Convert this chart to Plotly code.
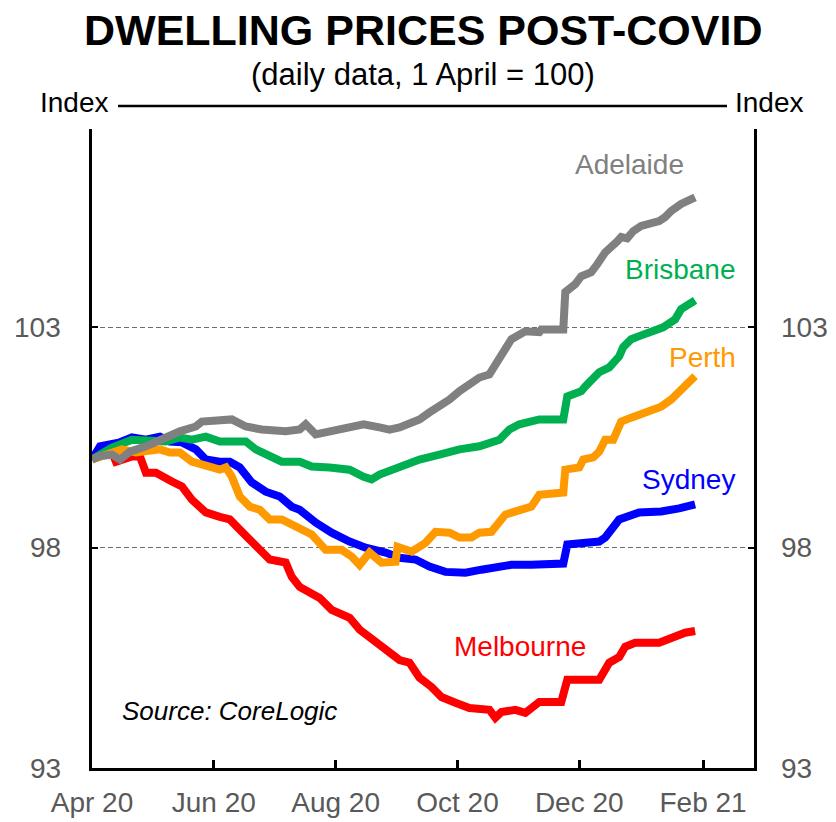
import plotly.graph_objects as go

# ---------------- data ----------------
adelaide_dates = ["2020-04-01","2020-04-05","2020-04-11","2020-04-15","2020-04-20","2020-04-28","2020-05-08","2020-05-15","2020-05-23","2020-05-26",
                  "2020-06-10","2020-06-17","2020-06-25","2020-07-07","2020-07-14","2020-07-17","2020-07-22","2020-07-29","2020-08-08","2020-08-15",
                  "2020-08-23","2020-08-28","2020-09-02","2020-09-07","2020-09-12","2020-09-17","2020-09-22","2020-09-27","2020-10-02","2020-10-07",
                  "2020-10-12","2020-10-17","2020-10-22","2020-10-28","2020-11-04","2020-11-11","2020-11-12","2020-11-23","2020-11-24","2020-11-29",
                  "2020-12-02","2020-12-07","2020-12-10","2020-12-14","2020-12-20","2020-12-22","2020-12-25","2020-12-28","2021-01-01","2021-01-10",
                  "2021-01-13","2021-01-16","2021-01-21","2021-01-28"]
adelaide_vals = [100.00,100.08,100.11,100.00,100.18,100.30,100.50,100.64,100.75,100.86,
                 100.91,100.75,100.68,100.64,100.68,100.80,100.57,100.64,100.75,100.80,
                 100.73,100.68,100.73,100.80,100.91,101.07,101.20,101.36,101.55,101.70,
                 101.86,101.93,102.27,102.73,102.91,102.89,102.95,102.95,103.80,103.98,
                 104.16,104.25,104.43,104.70,104.95,105.05,105.02,105.18,105.30,105.41,
                 105.50,105.64,105.80,105.95]

brisbane_dates = ["2020-04-01","2020-04-11","2020-04-21","2020-04-28","2020-05-08","2020-05-15","2020-05-21","2020-05-28","2020-06-04","2020-06-10",
                  "2020-06-17","2020-06-22","2020-06-29","2020-07-05","2020-07-14","2020-07-20","2020-07-29","2020-08-08","2020-08-15","2020-08-19",
                  "2020-08-23","2020-09-02","2020-09-12","2020-09-22","2020-10-02","2020-10-12","2020-10-22","2020-10-27","2020-11-01","2020-11-11",
                  "2020-11-23","2020-11-25","2020-12-02","2020-12-04","2020-12-09","2020-12-11","2020-12-16","2020-12-21","2020-12-23","2020-12-27",
                  "2020-12-31","2021-01-05","2021-01-12","2021-01-18","2021-01-21","2021-01-28"]
brisbane_vals = [100.00,100.27,100.45,100.45,100.41,100.50,100.45,100.52,100.41,100.41,
                 100.41,100.23,100.07,99.95,99.95,99.84,99.82,99.77,99.61,99.55,
                 99.66,99.84,100.00,100.11,100.23,100.30,100.45,100.68,100.80,100.91,
                 100.91,101.43,101.55,101.66,101.86,101.98,102.09,102.34,102.55,102.73,
                 102.80,102.89,103.00,103.18,103.41,103.61]

perth_dates = ["2020-04-01","2020-04-11","2020-04-16","2020-04-23","2020-04-30","2020-05-05","2020-05-10","2020-05-15","2020-05-21","2020-05-30",
               "2020-06-04","2020-06-07","2020-06-10","2020-06-14","2020-06-19","2020-06-24","2020-06-29","2020-07-05","2020-07-12","2020-07-20",
               "2020-07-27","2020-08-04","2020-08-09","2020-08-13","2020-08-18","2020-08-24","2020-08-31","2020-09-01","2020-09-08","2020-09-15",
               "2020-09-20","2020-09-27","2020-10-02","2020-10-08","2020-10-12","2020-10-18","2020-10-25","2020-11-07","2020-11-11","2020-11-23",
               "2020-11-24","2020-12-01","2020-12-03","2020-12-08","2020-12-11","2020-12-14","2020-12-18","2020-12-22","2020-12-27","2021-01-03",
               "2021-01-11","2021-01-16","2021-01-21","2021-01-27","2021-01-28"]
perth_vals = [100.00,100.18,100.23,100.16,100.18,100.23,100.16,100.16,99.95,99.82,
              99.77,99.82,99.61,99.16,98.93,98.86,98.64,98.64,98.48,98.30,
              97.95,97.95,97.80,97.61,97.89,97.66,97.68,98.02,97.91,98.11,
              98.36,98.34,98.23,98.23,98.34,98.36,98.75,98.93,99.20,99.25,
              99.77,99.82,100.00,100.05,100.18,100.45,100.45,100.86,100.95,101.07,
              101.20,101.36,101.59,101.86,101.89]

sydney_dates = ["2020-04-01","2020-04-05","2020-04-15","2020-04-21","2020-04-28","2020-05-05","2020-05-10","2020-05-16","2020-05-23","2020-05-28",
                "2020-06-04","2020-06-09","2020-06-14","2020-06-20","2020-06-27","2020-07-04","2020-07-10","2020-07-14","2020-07-22","2020-07-30",
                "2020-08-08","2020-08-16","2020-08-26","2020-09-02","2020-09-10","2020-09-17","2020-09-25","2020-10-05","2020-10-13","2020-10-22",
                "2020-10-28","2020-11-07","2020-11-23","2020-11-25","2020-12-02","2020-12-11","2020-12-14","2020-12-21","2020-12-31","2021-01-11",
                "2021-01-20","2021-01-28"]
sydney_vals = [100.00,100.30,100.39,100.50,100.45,100.52,100.41,100.39,100.23,100.00,
               99.95,99.95,99.82,99.48,99.27,99.16,98.93,98.86,98.57,98.34,
               98.14,98.00,97.89,97.77,97.73,97.57,97.45,97.43,97.50,97.55,
               97.61,97.61,97.64,98.07,98.11,98.14,98.23,98.64,98.80,98.82,
               98.89,98.98]

melbourne_dates = ["2020-04-01","2020-04-05","2020-04-11","2020-04-13","2020-04-21","2020-04-25","2020-04-28","2020-05-03","2020-05-11","2020-05-16",
                   "2020-05-21","2020-05-28","2020-06-04","2020-06-09","2020-06-14","2020-06-22","2020-06-29","2020-07-07","2020-07-10","2020-07-14",
                   "2020-07-24","2020-07-30","2020-08-08","2020-08-13","2020-08-23","2020-09-02","2020-09-07","2020-09-12","2020-09-18","2020-09-23",
                   "2020-09-30","2020-10-07","2020-10-17","2020-10-20","2020-10-23","2020-10-30","2020-11-04","2020-11-11","2020-11-22","2020-11-25",
                   "2020-12-02","2020-12-11","2020-12-16","2020-12-21","2020-12-24","2020-12-29","2021-01-10","2021-01-16","2021-01-23","2021-01-28"]
melbourne_vals = [100.00,100.23,100.16,99.95,100.07,100.07,99.70,99.70,99.50,99.39,
                  99.09,98.80,98.70,98.64,98.41,98.02,97.73,97.66,97.34,97.11,
                  96.86,96.59,96.41,96.14,95.80,95.45,95.39,95.05,94.84,94.61,
                  94.48,94.36,94.32,94.14,94.27,94.32,94.25,94.50,94.50,95.00,
                  95.00,95.00,95.39,95.52,95.75,95.84,95.84,95.95,96.07,96.11]

tick_dates = ["2020-04-01","2020-06-01","2020-08-01","2020-10-01","2020-12-01","2021-02-01"]
tick_labels = ["Apr 20","Jun 20","Aug 20","Oct 20","Dec 20","Feb 21"]
y_ticks = [93, 98, 103]

# ---------------- styling ----------------
FONT = "Liberation Sans, Arial, sans-serif"
GREY_TXT = "#595959"
W, H = 836, 822
L, R, T, B = 92, 82, 129, 54
PW, PH = W - L - R, H - T - B

def px(xp, yp):
    return (xp - L) / PW, (H - B - yp) / PH

series = [
    ("Melbourne", melbourne_dates, melbourne_vals, "#ff0000"),
    ("Sydney", sydney_dates, sydney_vals, "#0000ff"),
    ("Brisbane", brisbane_dates, brisbane_vals, "#00b050"),
    ("Perth", perth_dates, perth_vals, "#ff9900"),
    ("Adelaide", adelaide_dates, adelaide_vals, "#808080"),
]

fig = go.Figure()
for name, d, v, c in series:
    fig.add_trace(go.Scatter(x=d, y=v, mode="lines", name=name,
                             line=dict(color=c, width=8), showlegend=False))

# invisible trace on right axis so the mirrored right axis gets ticks
fig.add_trace(go.Scatter(x=[tick_dates[0]], y=[100], yaxis="y2", mode="none",
                         showlegend=False, hoverinfo="skip"))

fig.update_layout(
    width=W, height=H, autosize=False,
    margin=dict(l=L, r=R, t=T, b=B),
    paper_bgcolor="white", plot_bgcolor="white",
    font=dict(family=FONT, size=28, color=GREY_TXT),
    xaxis=dict(range=["2020-04-01", "2021-02-26 12:00"], tickvals=tick_dates, ticktext=tick_labels,
               ticks="inside", ticklen=8, tickwidth=2.5, tickcolor="black", automargin=False,
               showline=True, linecolor="black", linewidth=3, showgrid=False, zeroline=False,
               tickfont=dict(size=28, color=GREY_TXT), ticklabelstandoff=7),
    yaxis=dict(range=[93, 107.5], tickvals=y_ticks, showticklabels=False, automargin=False,
               ticks="inside", ticklen=6, tickwidth=2, tickcolor="black",
               showline=True, linecolor="black", linewidth=3,
               showgrid=True, gridcolor="#6e6e6e", gridwidth=1.3, griddash="5px,3px", zeroline=False),
    yaxis2=dict(range=[93, 107.5], tickvals=y_ticks, showticklabels=False, overlaying="y", side="right",
                ticks="inside", ticklen=6, tickwidth=2, tickcolor="black", automargin=False,
                showline=True, linecolor="black", linewidth=3, showgrid=False, zeroline=False),
)

ann = []
# y tick labels (left right-aligned, right left-aligned)
for yv in y_ticks:
    ann.append(dict(xref="paper", yref="y", x=(63 - L) / PW, y=yv, text=str(yv), showarrow=False,
                    xanchor="right", yanchor="middle", font=dict(size=28, color=GREY_TXT)))
    ann.append(dict(xref="paper", yref="y", x=1 + (779 - (W - R)) / PW, y=yv, text=str(yv), showarrow=False,
                    xanchor="left", yanchor="middle", font=dict(size=28, color=GREY_TXT)))

def text_at(xp, yp, text, size, color, anchor="center", **kw):
    x, y = px(xp, yp)
    ann.append(dict(xref="paper", yref="paper", x=x, y=y, text=text, showarrow=False,
                    xanchor=anchor, yanchor="middle", font=dict(size=size, color=color, family=FONT), **kw))

text_at(423, 30, "<b>DWELLING PRICES POST-COVID</b>", 43, "black")
text_at(423, 74, "(daily data, 1 April = 100)", 31, "black")
text_at(74, 102, "Index", 28, "black")
text_at(769, 102, "Index", 28, "black")
text_at(629, 164, "Adelaide", 28, "#808080")
text_at(680, 269, "Brisbane", 28, "#00b050")
text_at(702, 357, "Perth", 28, "#ff9900")
text_at(688, 479, "Sydney", 28, "#0000ff")
text_at(520, 646, "Melbourne", 28, "#ff0000")
text_at(120, 711, "<i>Source: CoreLogic</i>", 26, "black", anchor="left")
fig.update_layout(annotations=ann)

# top "Index ---- Index" rule
x0, y0 = px(118, 106)
x1, _ = px(727, 106)
fig.add_shape(type="line", xref="paper", yref="paper", x0=x0, x1=x1, y0=y0, y1=y0,
              line=dict(color="black", width=2.5))

fig.write_html("out.html")
